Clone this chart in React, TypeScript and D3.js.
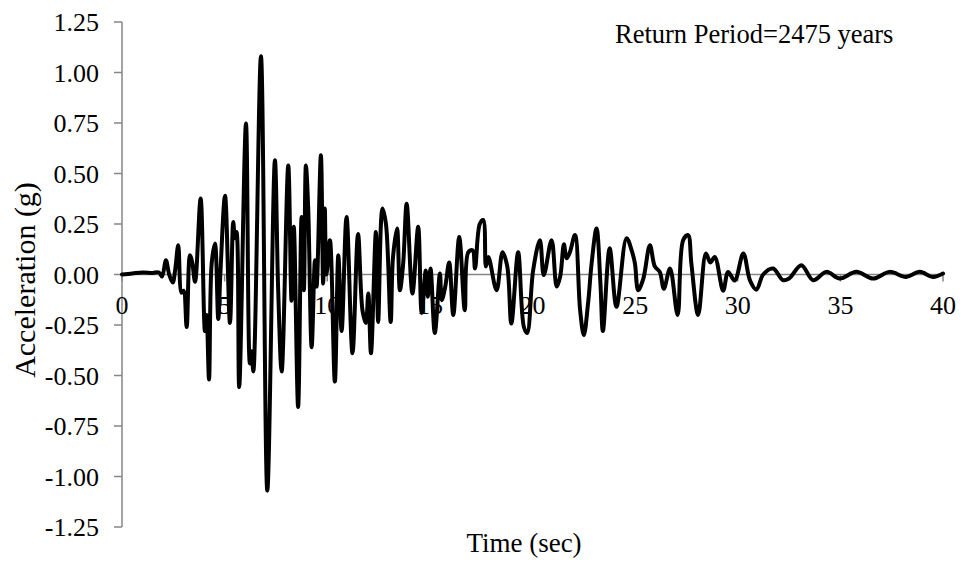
import React from "react";
import * as d3 from "d3";

const timeSec: number[] = [
  0, 0.5, 1.0, 1.5, 1.8, 1.95, 2.14, 2.3, 2.47, 2.6, 2.74, 2.9, 3.0, 3.15, 3.31, 3.42, 3.56, 3.83, 4.04, 4.12,
  4.24, 4.37, 4.53, 4.69, 4.8, 5.02, 5.26, 5.42, 5.5, 5.58, 5.71, 6.04, 6.23, 6.31, 6.4, 6.77, 7.08, 7.45, 7.61, 7.78,
  8.1, 8.26, 8.37, 8.58, 8.75, 8.86, 8.96, 9.07, 9.24, 9.4, 9.48, 9.69, 9.8, 9.88, 9.96, 10.13, 10.37, 10.54, 10.7, 10.94,
  11.23, 11.5, 11.72, 11.88, 12.0, 12.13, 12.37, 12.48, 12.69, 12.86, 13.09, 13.2, 13.4, 13.54, 13.7, 13.87, 14.15, 14.43, 14.6, 14.8,
  14.9, 15.03, 15.24, 15.49, 15.58, 15.75, 15.94, 16.14, 16.43, 16.7, 16.87, 17.08, 17.2, 17.43, 17.6, 17.73, 17.85, 18.25, 18.54, 18.77,
  18.97, 19.3, 19.58, 19.74, 20.03, 20.36, 20.55, 20.93, 21.18, 21.35, 21.53, 21.66, 21.82, 22.07, 22.32, 22.5, 22.71, 22.88, 23.12, 23.31,
  23.43, 23.76, 24.09, 24.58, 24.83, 24.99, 25.15, 25.4, 25.72, 25.96, 26.2, 26.4, 26.7, 27.07, 27.34, 27.58, 27.74, 28.07, 28.45, 28.66,
  28.88, 29.29, 29.53, 29.85, 30.27, 30.6, 30.91, 31.24, 31.72, 32.2, 32.5, 33.1, 33.67, 34.32, 34.97, 35.78, 36.6, 37.4, 38.2, 38.87,
  39.5, 40,
];

const accelG: number[] = [
  0.0, 0.005, 0.01, 0.008, 0.01, -0.01, 0.07, 0.0, -0.04, 0.03, 0.145, -0.09, -0.08, -0.26, 0.095, 0.06, -0.036, 0.376, -0.28, -0.2,
  -0.52, 0.056, 0.153, -0.22, 0.02, 0.39, -0.24, 0.26, 0.18, 0.21, -0.557, 0.748, -0.44, -0.38, -0.48, 1.08, -1.07, 0.565, -0.08, -0.48,
  0.54, -0.13, 0.236, -0.656, 0.285, -0.078, 0.54, 0.335, -0.36, 0.07, -0.06, 0.59, -0.045, 0.327, 0.0, 0.17, -0.53, 0.095, -0.28, 0.285,
  -0.39, 0.2, -0.18, -0.24, -0.094, -0.39, 0.21, -0.235, 0.327, 0.25, -0.235, 0.08, 0.228, -0.078, 0.055, 0.35, -0.094, 0.236, -0.19, 0.02,
  -0.11, 0.03, -0.29, 0.005, -0.127, -0.06, 0.06, -0.2, 0.186, -0.177, 0.11, 0.12, 0.03, 0.25, 0.27, 0.04, 0.087, -0.078, 0.11, 0.04,
  -0.243, 0.11, -0.26, -0.29, 0.02, 0.17, -0.003, 0.17, -0.06, -0.01, 0.15, 0.08, 0.11, 0.195, -0.177, -0.3, -0.14, 0.055, 0.228, -0.045,
  -0.28, 0.13, -0.16, 0.18, 0.12, 0.055, -0.078, -0.02, 0.145, 0.04, 0.013, -0.07, 0.03, -0.2, 0.17, 0.195, 0.055, -0.2, 0.104, 0.06,
  0.087, -0.08, 0.013, -0.03, 0.104, -0.03, -0.075, 0.0, 0.03, -0.028, -0.02, 0.046, -0.028, 0.013, -0.02, 0.013, -0.02, 0.013, -0.012, 0.013,
  -0.012, 0.005,
];

const xTicks: number[] = [0, 5, 10, 15, 20, 25, 30, 35, 40];
const yTicks: number[] = [1.25, 1.0, 0.75, 0.5, 0.25, 0, -0.25, -0.5, -0.75, -1.0, -1.25];

const titleText = "Return Period=2475 years";
const xLabel = "Time (sec)";
const yLabel = "Acceleration (g)";

const fmtY = (v: number) => d3.format(".2f")(v).replace("\u2212", "-");

export default function App() {
  const W = 963;
  const H = 565;
  const x = d3.scaleLinear().domain([0, 40]).range([122, 943]);
  const y = d3.scaleLinear().domain([-1.25, 1.25]).range([527, 22]);
  const data = timeSec.map((t, i) => [t, accelG[i]] as [number, number]);
  const line = d3
    .line<[number, number]>()
    .x((d) => x(d[0]))
    .y((d) => y(d[1]))
    .curve(d3.curveCatmullRom.alpha(0.5));
  const font = "'Liberation Serif', 'Times New Roman', serif";
  const axisColor = "#868686";
  return (
    <svg
      width={W}
      height={H}
      style={{ position: "absolute", left: 0, top: 0, display: "block", background: "#fff" }}
    >
      <rect x={0} y={0} width={W} height={H} fill="#fff" />
      {/* y axis */}
      <line x1={x(0)} x2={x(0)} y1={y(1.25)} y2={y(-1.25)} stroke={axisColor} strokeWidth={1.5} />
      {yTicks.map((v) => (
        <g key={"y" + v}>
          <line x1={x(0) - 8} x2={x(0)} y1={y(v)} y2={y(v)} stroke={axisColor} strokeWidth={1.5} />
          <text
            x={x(0) - 23}
            y={y(v)}
            dy="0.35em"
            textAnchor="end"
            fontFamily={font}
            fontSize={26}
            fill="#000"
          >
            {fmtY(v)}
          </text>
        </g>
      ))}
      {/* x axis at zero */}
      <line x1={x(0)} x2={x(40)} y1={y(0)} y2={y(0)} stroke={axisColor} strokeWidth={1.5} />
      {xTicks.map((v) => (
        <g key={"x" + v}>
          <line x1={x(v)} x2={x(v)} y1={y(0)} y2={y(0) + 7} stroke={axisColor} strokeWidth={1.5} />
          <text
            x={x(v)}
            y={y(0) + 39}
            textAnchor="middle"
            fontFamily={font}
            fontSize={26}
            fill="#000"
          >
            {v}
          </text>
        </g>
      ))}
      <path d={line(data) || ""} fill="none" stroke="#000" strokeWidth={4} strokeLinejoin="round" strokeLinecap="round" />
      <text x={615} y={43} fontFamily={font} fontSize={26.5} fill="#000">
        {titleText}
      </text>
      <text x={524} y={552} textAnchor="middle" fontFamily={font} fontSize={27} fill="#000">
        {xLabel}
      </text>
      <text
        transform={`translate(35, 280) rotate(-90)`}
        textAnchor="middle"
        fontFamily={font}
        fontSize={30}
        fill="#000"
      >
        {yLabel}
      </text>
    </svg>
  );
}
